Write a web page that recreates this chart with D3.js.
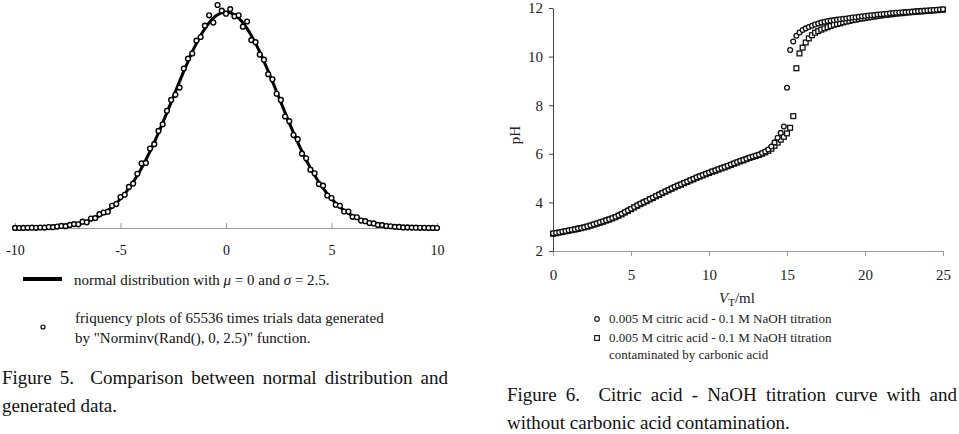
<!DOCTYPE html>
<html>
<head>
<meta charset="utf-8">
<script src="https://cdn.jsdelivr.net/npm/d3@7"></script>
<style>
  body { margin: 0; background: #fff; }
  svg { display: block; font-family: "Liberation Serif", "Times New Roman", serif; }
</style>
</head>
<body>
<svg id="fig" width="959" height="434"></svg>
<script>
// ---- Figure 5 data: bins of 0.2 from -10 to 10 ----
var binX = d3.range(-10, 10.0001, 0.2);
// normal curve (mu = 0, sigma = 2.5), counts per bin
var normalCurve = [
  0.7, 1.0, 1.3, 1.8, 2.4, 3.2, 4.3, 5.6, 7.4, 9.6,
  12.5, 16, 21, 26, 33, 41, 52, 64, 79, 97,
  117, 142, 170, 203, 241, 283, 331, 385, 445, 510,
  582, 659, 742, 830, 922, 1018, 1117, 1218, 1320, 1420,
  1519, 1614, 1705, 1788, 1864, 1931, 1988, 2033, 2065, 2085,
  2092, 2085, 2065, 2033, 1988, 1931, 1864, 1788, 1705, 1614,
  1519, 1420, 1320, 1218, 1117, 1018, 922, 830, 742, 659,
  582, 510, 445, 385, 331, 283, 241, 203, 170, 142,
  117, 97, 79, 64, 52, 41, 33, 26, 21, 16,
  12.5, 9.6, 7.4, 5.6, 4.3, 3.2, 2.4, 1.8, 1.3, 1.0,
  0.7
];
// frequency of the 65536 trials
var trialFreq = [
  1, 0, 1, 2, 3, 2, 5, 4, 9, 8,
  14, 20, 18, 30, 38, 36, 61, 55, 92, 96,
  134, 150, 158, 215, 232, 300, 322, 398, 430, 525,
  625, 630, 770, 812, 940, 1005, 1135, 1240, 1290, 1360,
  1545, 1640, 1690, 1815, 1850, 1960, 2060, 1990, 2160, 2105,
  2075, 2120, 2050, 2060, 1950, 2000, 1820, 1800, 1680, 1630,
  1490, 1440, 1300, 1240, 1080, 1035, 900, 860, 720, 675,
  565, 530, 425, 410, 315, 290, 225, 215, 160, 160,
  108, 104, 72, 66, 48, 44, 30, 28, 19, 17,
  11, 10, 6, 6, 4, 3, 2, 2, 1, 1,
  0
];
var fig5Ticks = [-10, -5, 0, 5, 10];

// ---- Figure 6 data: titrant volume every 0.2 ml ----
var volume = d3.range(0, 25.0001, 0.2);
var phPure = [
  2.73, 2.75, 2.77, 2.80, 2.82, 2.85, 2.87, 2.90, 2.93, 2.95,
  2.98, 3.02, 3.06, 3.10, 3.14, 3.18, 3.22, 3.27, 3.31, 3.36,
  3.41, 3.47, 3.53, 3.60, 3.67, 3.74, 3.81, 3.88, 3.95, 4.01,
  4.07, 4.14, 4.20, 4.27, 4.33, 4.40, 4.46, 4.52, 4.58, 4.64,
  4.70, 4.75, 4.81, 4.86, 4.92, 4.97, 5.03, 5.08, 5.13, 5.18,
  5.23, 5.28, 5.32, 5.37, 5.42, 5.46, 5.51, 5.56, 5.61, 5.66,
  5.71, 5.75, 5.80, 5.85, 5.89, 5.93, 5.97, 6.03, 6.09, 6.18,
  6.30, 6.47, 6.66, 6.86, 7.12, 8.72, 10.27, 10.62, 10.86, 10.99,
  11.09, 11.16, 11.22, 11.27, 11.32, 11.36, 11.40, 11.43, 11.46, 11.48,
  11.50, 11.52, 11.54, 11.56, 11.57, 11.59, 11.61, 11.62, 11.64, 11.66,
  11.67, 11.69, 11.70, 11.71, 11.73, 11.74, 11.75, 11.76, 11.78, 11.79,
  11.80, 11.81, 11.82, 11.83, 11.84, 11.85, 11.86, 11.87, 11.88, 11.89,
  11.90, 11.91, 11.92, 11.93, 11.94, 11.95
];
var phCarbonic = [
  2.71, 2.73, 2.76, 2.78, 2.81, 2.83, 2.86, 2.88, 2.91, 2.94,
  2.97, 3.00, 3.04, 3.08, 3.12, 3.16, 3.20, 3.25, 3.29, 3.34,
  3.39, 3.45, 3.51, 3.58, 3.65, 3.72, 3.79, 3.86, 3.93, 3.99,
  4.05, 4.12, 4.18, 4.25, 4.31, 4.38, 4.44, 4.50, 4.56, 4.62,
  4.68, 4.73, 4.79, 4.84, 4.90, 4.95, 5.01, 5.06, 5.11, 5.16,
  5.21, 5.26, 5.30, 5.35, 5.40, 5.44, 5.49, 5.54, 5.59, 5.64,
  5.69, 5.73, 5.78, 5.83, 5.87, 5.91, 5.95, 6.00, 6.06, 6.12,
  6.21, 6.33, 6.46, 6.58, 6.70, 6.84, 7.07, 7.55, 9.52, 10.13,
  10.37, 10.58, 10.75, 10.88, 10.98, 11.05, 11.11, 11.16, 11.21, 11.26,
  11.31, 11.34, 11.37, 11.41, 11.44, 11.47, 11.50, 11.52, 11.55, 11.57,
  11.59, 11.61, 11.63, 11.65, 11.67, 11.69, 11.71, 11.72, 11.74, 11.75,
  11.77, 11.78, 11.79, 11.81, 11.82, 11.83, 11.84, 11.85, 11.86, 11.87,
  11.88, 11.89, 11.90, 11.91, 11.92, 11.93
];
var volTicks = [0, 5, 10, 15, 20, 25];
var phTicks = [2, 4, 6, 8, 10, 12];

var svg = d3.select("#fig");
svg.append("rect").attr("width", 959).attr("height", 434).attr("fill", "#fff");
var plain = function(d) { return String(d); };

// ================= Figure 5 =================
var xL = d3.scaleLinear().domain([-10, 10]).range([15, 437]);
var yL = d3.scaleLinear().domain([0, 2092]).range([228, 12]);

var axL = svg.append("g").attr("transform", "translate(0,228)")
  .call(d3.axisBottom(xL).tickValues(fig5Ticks).tickFormat(plain)
    .tickSizeInner(-5).tickSizeOuter(0).tickPadding(17));
axL.select(".domain").attr("stroke", "#999");
axL.selectAll(".tick line").attr("stroke", "#999");
axL.selectAll(".tick text").attr("font-size", "14px").attr("font-family", "Liberation Serif").attr("fill", "#111");

svg.append("path")
  .datum(binX.map(function(x, i) { return [x, normalCurve[i]]; }))
  .attr("fill", "none").attr("stroke", "#000").attr("stroke-width", 3)
  .attr("d", d3.line().x(function(d) { return xL(d[0]); }).y(function(d) { return yL(d[1]); }).curve(d3.curveMonotoneX));

svg.append("g").selectAll("circle")
  .data(binX.map(function(x, i) { return [x, trialFreq[i]]; }))
  .join("circle")
  .attr("cx", function(d) { return xL(d[0]); })
  .attr("cy", function(d) { return yL(d[1]); })
  .attr("r", 2.4).attr("fill", "#fff").attr("stroke", "#000").attr("stroke-width", 1.4);

// legend
svg.append("line").attr("x1", 23).attr("x2", 62).attr("y1", 279).attr("y2", 279)
  .attr("stroke", "#000").attr("stroke-width", 4);
var lt1 = svg.append("text").attr("x", 74).attr("y", 285).attr("font-size", "15px").attr("fill", "#111");
lt1.append("tspan").text("normal distribution with ");
lt1.append("tspan").attr("font-style", "italic").text("\u03bc");
lt1.append("tspan").text(" = 0 and ");
lt1.append("tspan").attr("font-style", "italic").text("\u03c3");
lt1.append("tspan").text(" = 2.5.");

svg.append("circle").attr("cx", 43).attr("cy", 327).attr("r", 2)
  .attr("fill", "#fff").attr("stroke", "#000").attr("stroke-width", 1.2);
svg.append("text").attr("x", 75).attr("y", 323).attr("font-size", "15px").attr("fill", "#111")
  .text("friquency plots of 65536 times trials data generated");
svg.append("text").attr("x", 75).attr("y", 343).attr("font-size", "15px").attr("fill", "#111")
  .text("by \"Norminv(Rand(), 0, 2.5)\" function.");

// ================= Figure 6 =================
var xR = d3.scaleLinear().domain([0, 25]).range([553, 943]);
var yR = d3.scaleLinear().domain([2, 12]).range([251, 8]);

var axX = svg.append("g").attr("transform", "translate(0,251)")
  .call(d3.axisBottom(xR).tickValues(volTicks).tickFormat(plain)
    .tickSize(5).tickSizeOuter(0).tickPadding(13));
axX.select(".domain").attr("stroke", "#999");
axX.selectAll(".tick line").attr("stroke", "#999");
axX.selectAll(".tick text").attr("font-size", "15px").attr("font-family", "Liberation Serif").attr("fill", "#222");

var axY = svg.append("g").attr("transform", "translate(553,0)")
  .call(d3.axisLeft(yR).tickValues(phTicks).tickFormat(plain)
    .tickSize(4).tickSizeOuter(0).tickPadding(6));
axY.select(".domain").attr("stroke", "#444");
axY.selectAll(".tick line").attr("stroke", "#444");
axY.selectAll(".tick text").attr("font-size", "15px").attr("font-family", "Liberation Serif").attr("fill", "#222");

svg.append("text").attr("transform", "translate(520,135) rotate(-90)")
  .attr("text-anchor", "middle").attr("font-size", "15px").attr("fill", "#222").text("pH");

var vt = svg.append("text").attr("x", 737).attr("y", 303).attr("text-anchor", "middle")
  .attr("font-size", "15px").attr("fill", "#222");
vt.append("tspan").attr("font-style", "italic").text("V");
vt.append("tspan").attr("font-size", "11px").attr("dy", 3).text("T");
vt.append("tspan").attr("dy", -3).text("/ml");

var sq = 4.8;
svg.append("g").selectAll("rect")
  .data(volume.map(function(v, i) { return [v, phCarbonic[i]]; }))
  .join("rect")
  .attr("x", function(d) { return xR(d[0]) - sq / 2; })
  .attr("y", function(d) { return yR(d[1]) - sq / 2; })
  .attr("width", sq).attr("height", sq)
  .attr("fill", "#fff").attr("stroke", "#111").attr("stroke-width", 1.3);

svg.append("g").selectAll("circle")
  .data(volume.map(function(v, i) { return [v, phPure[i]]; }))
  .join("circle")
  .attr("cx", function(d) { return xR(d[0]); })
  .attr("cy", function(d) { return yR(d[1]); })
  .attr("r", 2.4).attr("fill", "#fff").attr("stroke", "#111").attr("stroke-width", 1.3);

// legend
svg.append("circle").attr("cx", 597).attr("cy", 319).attr("r", 2.3)
  .attr("fill", "#fff").attr("stroke", "#222").attr("stroke-width", 1.2);
svg.append("rect").attr("x", 594.6).attr("y", 335.6).attr("width", 4.8).attr("height", 4.8)
  .attr("fill", "#fff").attr("stroke", "#222").attr("stroke-width", 1.2);
svg.append("text").attr("x", 609).attr("y", 323).attr("font-size", "13px").attr("fill", "#222")
  .text("0.005 M citric acid - 0.1 M NaOH titration");
svg.append("text").attr("x", 609).attr("y", 342).attr("font-size", "13px").attr("fill", "#222")
  .text("0.005 M citric acid - 0.1 M NaOH titration");
svg.append("text").attr("x", 609).attr("y", 359).attr("font-size", "13px").attr("fill", "#222")
  .text("contaminated by carbonic acid");

// ================= captions =================
function justified(x, y, width, str) {
  var t = svg.append("text").attr("x", x).attr("y", y).attr("font-size", "19px")
    .attr("fill", "#111").attr("xml:space", "preserve").text(str);
  var gaps = str.split(" ").length - 1;
  var extra = width - t.node().getComputedTextLength();
  if (gaps > 0) t.attr("word-spacing", extra / gaps);
  return t;
}
justified(2, 384, 446, "Figure 5.  Comparison between normal distribution and");
svg.append("text").attr("x", 2).attr("y", 412).attr("font-size", "19px").attr("fill", "#111")
  .text("generated data.");
justified(507, 401, 450, "Figure 6.  Citric acid - NaOH titration curve with and");
svg.append("text").attr("x", 507).attr("y", 429).attr("font-size", "19px").attr("fill", "#111")
  .text("without carbonic acid contamination.");
</script>
</body>
</html>
